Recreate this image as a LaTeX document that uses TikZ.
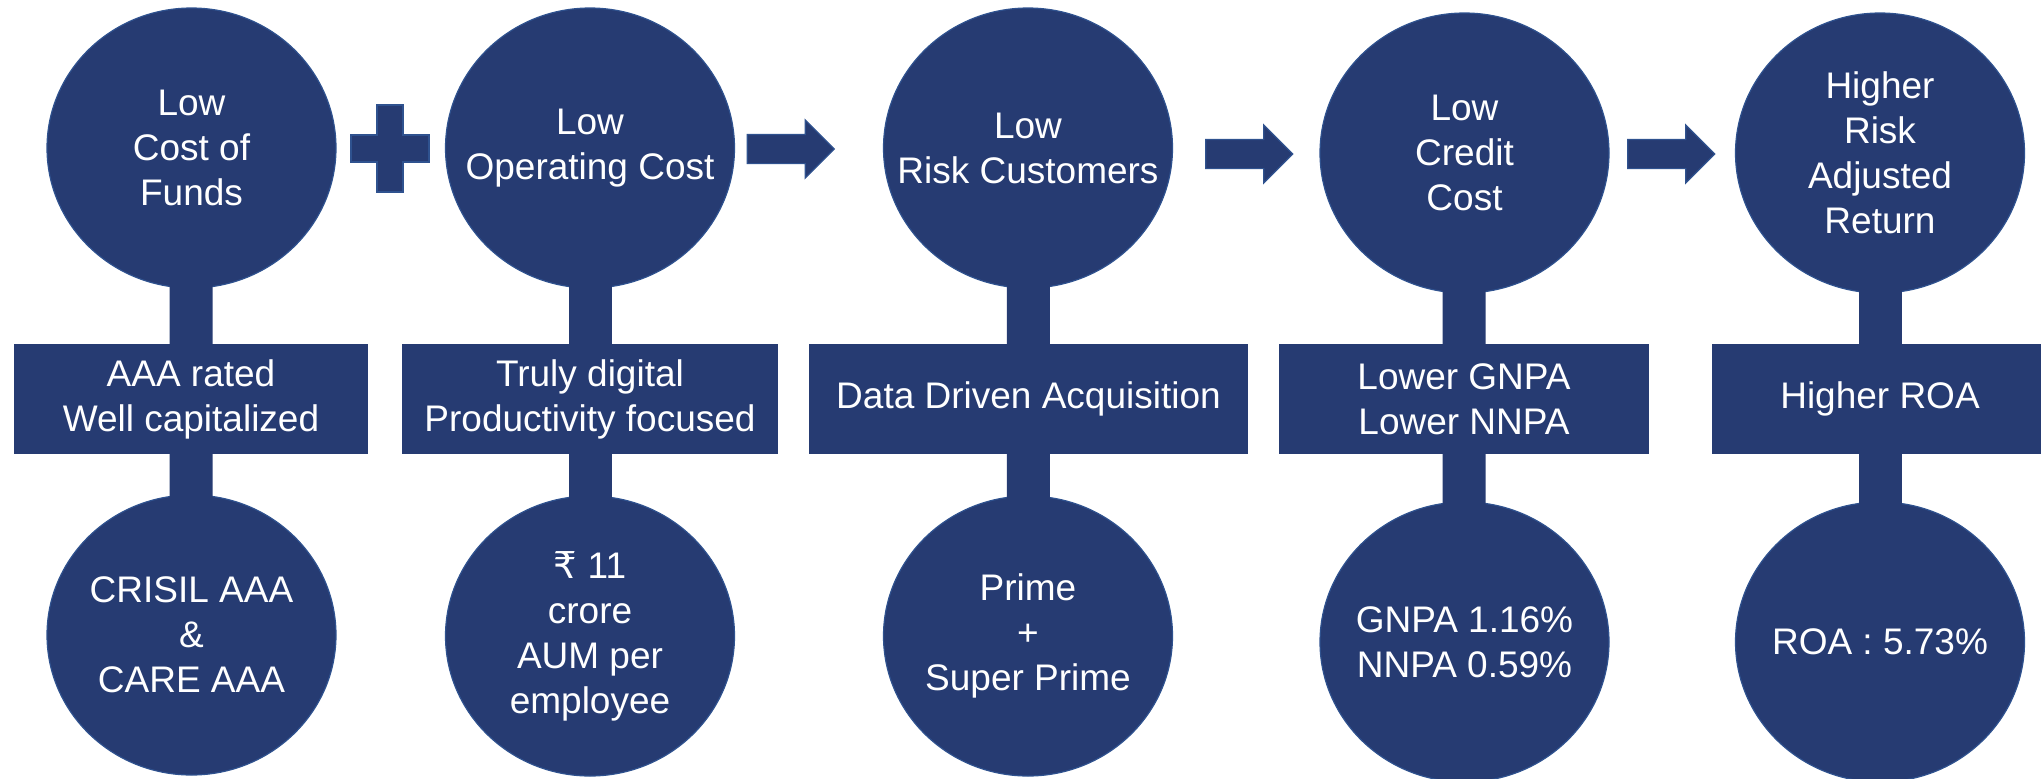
\documentclass[tikz,border=0pt]{standalone}
\usepackage{fontspec}
\setmainfont{Liberation Sans}
\newfontfamily\rupeefont{DejaVu Sans}
\usetikzlibrary{shapes.geometric,shapes.arrows}
\definecolor{navy}{RGB}{38,59,114}
\definecolor{rim}{RGB}{47,82,143}
\tikzset{
	txt/.style={text=white, align=center, font=\fontsize{18.5}{22.5}\selectfont},
	bubble/.style={ellipse, fill=navy, draw=rim, line width=0.6pt, minimum width=144.5pt, minimum height=140pt, inner sep=0pt},
	plate/.style={rectangle, fill=navy, minimum height=55pt, inner sep=0pt, txt},
	stem/.style={navy, line width=21.5pt, shorten <=-3pt, shorten >=-3pt},
	push/.style={single arrow, fill=navy, draw=rim, line width=0.6pt, minimum height=43.5pt, inner xsep=0pt, inner ysep=7pt, single arrow head extend=7.25pt}
}
\begin{document}
\begin{tikzpicture}[x=0.5pt,y=-0.5pt]
			\useasboundingbox (0,0) rectangle (2041,778);
			% top row
			\node (t1) at (191.5,148) [bubble, label={[txt]center:{Low\\Cost of\\Funds}}] {};
			\node (t2) at (590,148)   [bubble, label={[txt]center:{Low\\Operating Cost}}] {};
			\node (t3) at (1028,148)  [bubble, label={[txt]center:{Low\\Risk Customers}}] {};
			\node (t4) at (1464.5,153) [bubble, label={[txt]center:{Low\\Credit\\Cost}}] {};
			\node (t5) at (1880,153)  [bubble, label={[txt]center:{Higher\\Risk\\Adjusted\\Return}}] {};
			% middle row
			\node (b1) at (191,399)    [plate, minimum width=177pt] {AAA rated\\Well capitalized};
			\node (b2) at (590,399)    [plate, minimum width=188pt] {Truly digital\\Productivity focused};
			\node (b3) at (1028.5,399) [plate, minimum width=219.5pt] {Data Driven Acquisition};
			\node (b4) at (1464,399)   [plate, minimum width=185pt] {Lower GNPA\\Lower NNPA};
			\node (b5) at (1880,399)   [plate, minimum width=168pt] {Higher ROA};
			% bottom row
			\node (s1) at (191.5,635) [bubble, label={[txt]center:{CRISIL AAA\\\&\\CARE AAA}}] {};
			\node (s2) at (590,636)   [bubble, label={[txt]center:{{\rupeefont ₹} 11\\crore\\AUM per\\employee}}] {};
			\node (s3) at (1028,636)  [bubble, label={[txt]center:{Prime\\+\\Super Prime}}] {};
			\node (s4) at (1464.5,642) [bubble, label={[txt]center:{GNPA 1.16\%\\NNPA 0.59\%}}] {};
			\node (s5) at (1880,642)  [bubble, label={[txt]center:{ROA : 5.73\%}}] {};
			% stems
			\draw[stem] (t1) -- (b1);
			\draw[stem] (b1) -- (s1);
			\draw[stem] (t2) -- (b2);
			\draw[stem] (b2) -- (s2);
			\draw[stem] (t3) -- (b3);
			\draw[stem] (b3) -- (s3);
			\draw[stem] (t4) -- (b4);
			\draw[stem] (b4) -- (s4);
			\draw[stem] (t5) -- (b5);
			\draw[stem] (b5) -- (s5);
			% plus and arrows
			\fill[navy, draw=rim, line width=1pt] (377,105) -- (403,105) -- (403,135) -- (429,135) -- (429,162) -- (403,162) -- (403,192) -- (377,192) -- (377,162) -- (351,162) -- (351,135) -- (377,135) -- cycle;
			\node (a1) at (783.5,149) [push] {};
			\node (a2) at (1242,154)  [push] {};
			\node (a3) at (1664,154)  [push] {};
		\end{tikzpicture}
\end{document}
